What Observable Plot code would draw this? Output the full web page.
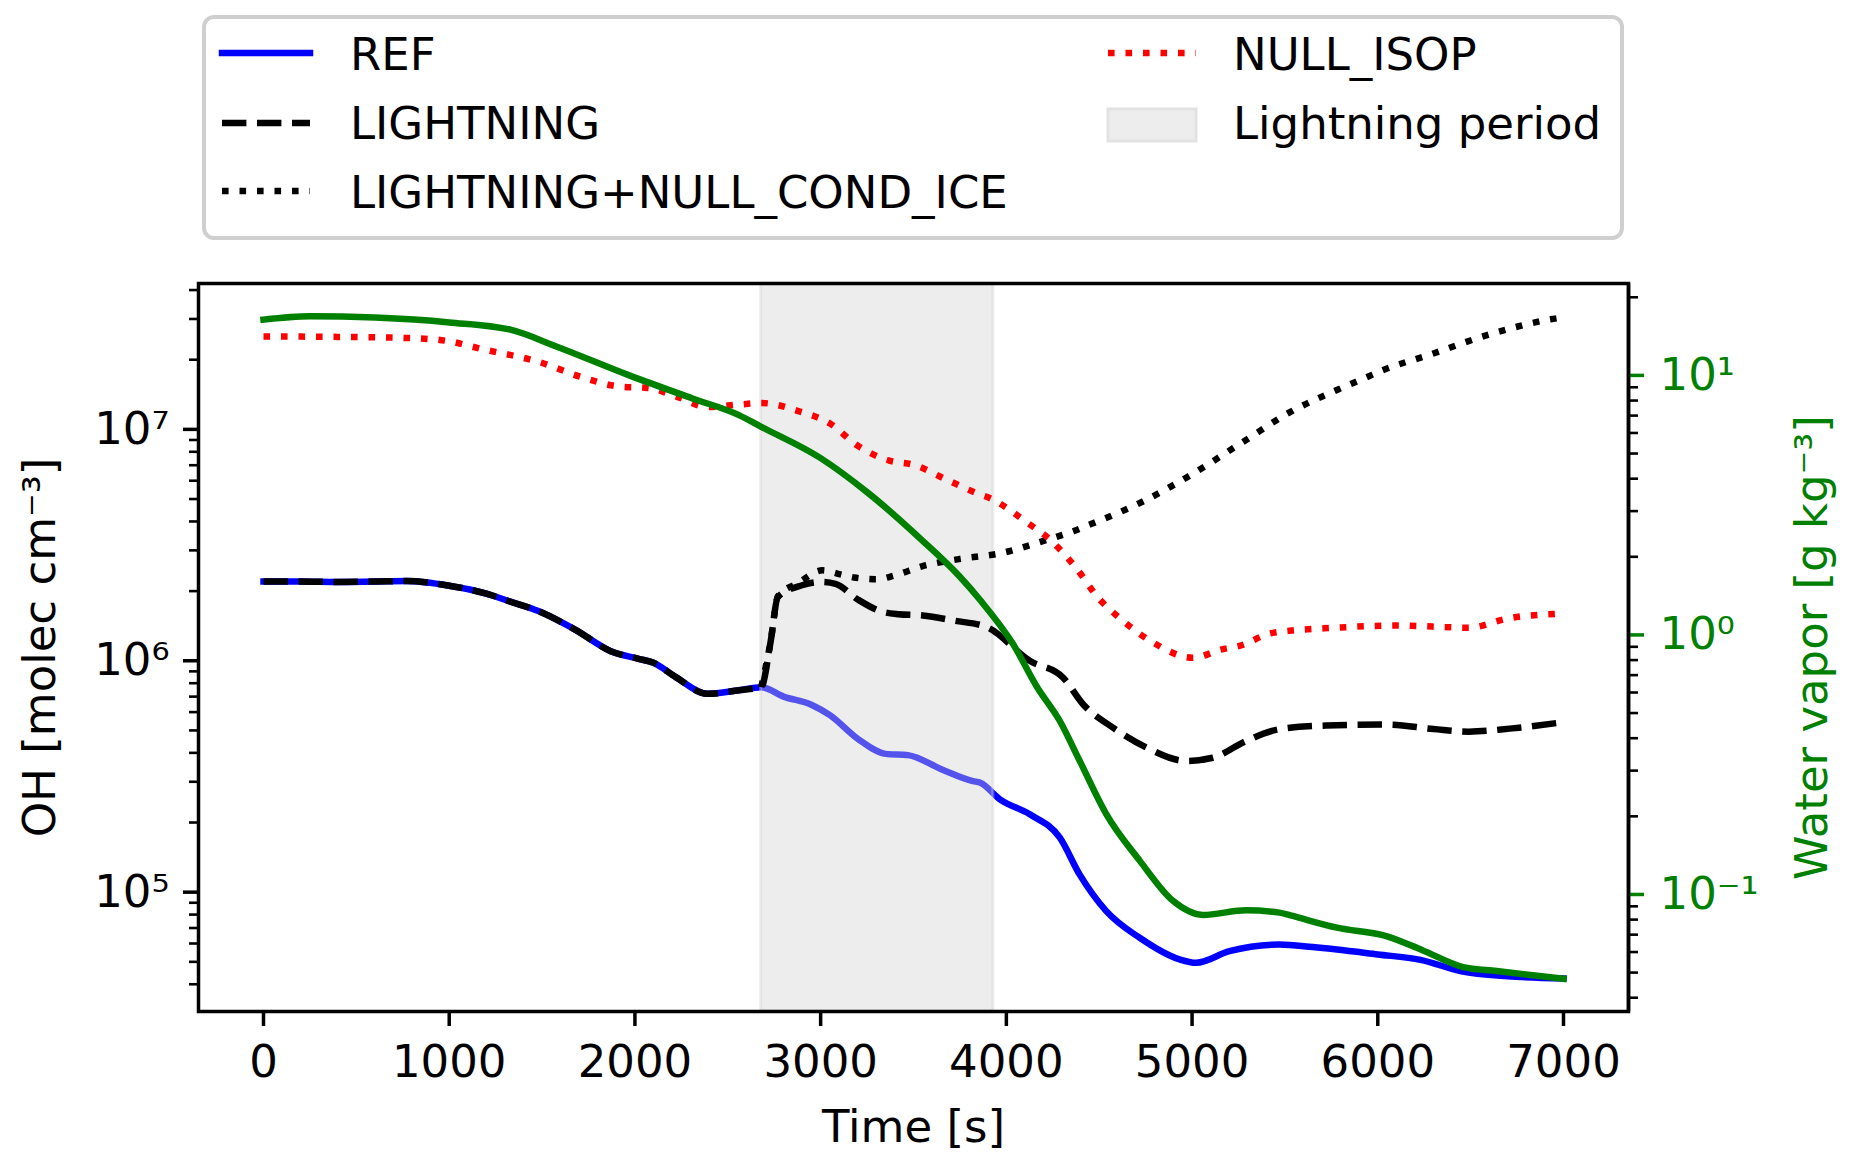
<!DOCTYPE html>
<html><head><meta charset="utf-8">
<script src="https://cdn.jsdelivr.net/npm/d3@7"></script>
<script src="https://cdn.jsdelivr.net/npm/@observablehq/plot@0.6"></script>
<style>
html,body{margin:0;padding:0;background:#fff;}
#wrap{position:relative;width:1850px;height:1166px;overflow:hidden;font-family:"DejaVu Sans";}
#wrap > svg{position:absolute;left:0;top:0;}
</style></head><body><div id="wrap"></div>
<script>
// ---------- data ----------
const refT  = [0,200,400,600,770,1000,1200,1330,1480,1680,1870,2020,2100,2220,2390,2560,2680,2800,2950,3050,3200,3350,3470,3650,3820,3860,3965,4126,4288,4395,4538,4718,4933,5022,5201,5470,5650,6000,6230,6450,6700,7000];
const refOH = [2.20e6,2.20e6,2.19e6,2.20e6,2.21e6,2.11e6,1.95e6,1.80e6,1.64e6,1.36e6,1.10e6,1.02e6,9.8e5,8.5e5,7.2e5,7.46e5,7.69e5,7.0e5,6.46e5,5.82e5,4.60e5,3.96e5,3.91e5,3.40e5,3.02e5,2.97e5,2.52e5,2.17e5,1.72e5,1.19e5,8.28e4,6.35e4,5.12e4,4.95e4,5.56e4,5.94e4,5.79e4,5.38e4,5.1e4,4.55e4,4.33e4,4.24e4];

const lightT  = [0,200,400,600,770,1000,1200,1330,1480,1680,1870,2020,2100,2220,2390,2560,2680,2730,2770,2900,3000,3080,3200,3320,3420,3550,3720,3893,4126,4306,4413,4574,4753,4968,5111,5291,5470,5720,6050,6300,6490,6710,7000];
const lightOH = [2.20e6,2.20e6,2.19e6,2.20e6,2.21e6,2.11e6,1.95e6,1.80e6,1.64e6,1.36e6,1.10e6,1.02e6,9.8e5,8.5e5,7.2e5,7.46e5,7.69e5,1.2e6,1.89e6,2.12e6,2.19e6,2.15e6,1.84e6,1.64e6,1.59e6,1.57e6,1.49e6,1.40e6,1.0e6,8.45e5,6.49e5,5.14e5,4.22e5,3.69e5,3.81e5,4.50e5,5.06e5,5.25e5,5.30e5,5.07e5,4.94e5,5.09e5,5.43e5];

const iceT  = [2680,2730,2770,2880,3010,3100,3180,3300,3400,3545,3744,3990,4170,4360,4440,4620,4740,5000,5280,5530,5780,5940,6025,6270,6600,6930,7000];
const iceOH = [7.69e5,1.2e6,1.9e6,2.17e6,2.46e6,2.37e6,2.29e6,2.25e6,2.34e6,2.56e6,2.75e6,2.94e6,3.24e6,3.63e6,3.85e6,4.42e6,4.90e6,6.40e6,8.89e6,1.19e7,1.48e7,1.68e7,1.80e7,2.09e7,2.57e7,2.99e7,3.05e7];

const isopT  = [0,400,790,990,1180,1480,1725,1920,2070,2220,2390,2560,2680,2880,3050,3200,3370,3500,3670,3840,3920,4004,4090,4240,4377,4490,4627,4789,5004,5160,5255,5434,5780,6100,6490,6710,7000];
const isopOH = [2.52e7,2.51e7,2.48e7,2.41e7,2.22e7,1.96e7,1.67e7,1.53e7,1.51e7,1.39e7,1.25e7,1.28e7,1.30e7,1.20e7,1.06e7,8.49e6,7.33e6,7.03e6,6.11e6,5.30e6,5.01e6,4.57e6,4.07e6,3.31e6,2.51e6,1.89e6,1.49e6,1.20e6,1.03e6,1.12e6,1.16e6,1.32e6,1.39e6,1.42e6,1.39e6,1.53e6,1.60e6];

const wvT = [0,250,600,1000,1330,1580,1970,2310,2560,2680,3000,3250,3545,3745,3860,4037,4165,4288,4395,4538,4718,4897,5058,5291,5470,5530,5780,6050,6240,6460,6640,7000];
const wvV = [16.4,16.9,16.7,16.0,15.0,12.9,10.0,8.15,7.03,6.34,4.80,3.55,2.32,1.69,1.36,0.92,0.63,0.466,0.327,0.204,0.135,0.0945,0.0834,0.0869,0.0851,0.083,0.0745,0.069,0.061,0.0525,0.0507,0.0473];

const lightningPeriod = [2680, 3930];

const xTicks = [0,1000,2000,3000,4000,5000,6000,7000];
const ohTicks = [1e5,1e6,1e7];
const ohMinor = [4e4,5e4,6e4,7e4,8e4,9e4,2e5,3e5,4e5,5e5,6e5,7e5,8e5,9e5,2e6,3e6,4e6,5e6,6e6,7e6,8e6,9e6,2e7,3e7,4e7];
const wvTicks = [0.1,1,10];
const wvMinor = [0.04,0.05,0.06,0.07,0.08,0.09,0.2,0.3,0.4,0.5,0.6,0.7,0.8,0.9,2,3,4,5,6,7,8,9,20];

const legendLabels = ["REF","LIGHTNING","LIGHTNING+NULL_COND_ICE","NULL_ISOP","Lightning period"];
const ohLabel = "OH [molec cm⁻³]";
const wvLabel = "Water vapor [g kg⁻³]";
const xLabel = "Time [s]";

// ---------- helpers ----------
const zip = (t, v) => t.map((d, i) => ({t: d, v: v[i]}));
const SUP = {"0":"⁰","1":"¹","2":"²","3":"³","4":"⁴","5":"⁵","6":"⁶","7":"⁷","8":"⁸","9":"⁹","-":"⁻"};
const pow10 = d => "10" + String(Math.round(Math.log10(d))).split("").map(c => SUP[c]).join("");

const W = 1850, H = 1166;
const M = {top: 283, bottom: 155, left: 198, right: 222};
const LW = 6.5, DASH = "24.4,10.6", DOT = "6.6,10.9";
const FONT = {fontFamily: "DejaVu Sans", fontSize: "45px", color: "black"};
const xDomain = [-350, 7350];

const wrap = document.getElementById("wrap");

// ---------- main plot (OH, left log axis) ----------
const p1 = Plot.plot({
  width: W, height: H,
  marginTop: M.top, marginBottom: M.bottom, marginLeft: M.left, marginRight: M.right,
  style: {...FONT, background: "white"},
  x: {domain: xDomain},
  y: {type: "log", domain: [3.05e4, 4.27e7]},
  marks: [
    Plot.line(zip(refT, refOH), {x: "t", y: "v", stroke: "#0000ff", strokeWidth: LW, curve: "monotone-x", strokeLinecap: "square"}),
    Plot.rect([{a: lightningPeriod[0], b: lightningPeriod[1]}], {x1: "a", x2: "b", fill: "#d3d3d3", fillOpacity: 0.4, stroke: "#d3d3d3", strokeOpacity: 0.4, strokeWidth: 3}),
    Plot.line(zip(lightT, lightOH), {x: "t", y: "v", stroke: "black", strokeWidth: LW, strokeDasharray: DASH, strokeLinecap: "butt", curve: "monotone-x"}),
    Plot.line(zip(iceT, iceOH), {x: "t", y: "v", stroke: "black", strokeWidth: LW, strokeDasharray: DOT, strokeLinecap: "butt", curve: "monotone-x"}),
    Plot.line(zip(isopT, isopOH), {x: "t", y: "v", stroke: "#ff0000", strokeWidth: LW, strokeDasharray: DOT, strokeLinecap: "butt", curve: "monotone-x"}),
    Plot.axisX({ticks: xTicks, tickSize: 15, tickPadding: 19, strokeWidth: 3.5, tickFormat: d3.format("d"), label: null}),
    Plot.axisY({ticks: ohMinor, tickSize: 9, strokeWidth: 2.6, tickFormat: () => "", label: null}),
    Plot.axisY({ticks: ohTicks, tickSize: 15, tickPadding: 14, strokeWidth: 3.5, tickFormat: pow10, label: null}),
    Plot.text([ohLabel], {text: d => d, frameAnchor: "left", dx: -158, rotate: -90, textAnchor: "middle", lineAnchor: "middle", fill: "black"}),
    Plot.text([xLabel], {text: d => d, frameAnchor: "bottom", dy: 116, textAnchor: "middle", lineAnchor: "middle", fill: "black"}),
    Plot.frame({stroke: "black", strokeWidth: 3.5})
  ]
});
wrap.appendChild(p1);

// ---------- twin plot (water vapor, right log axis) ----------
const p2 = Plot.plot({
  width: W, height: H,
  marginTop: M.top, marginBottom: M.bottom, marginLeft: M.left, marginRight: M.right,
  style: {...FONT, background: "transparent"},
  x: {domain: xDomain, axis: null},
  y: {type: "log", domain: [0.0354, 22.6]},
  marks: [
    Plot.line(zip(wvT, wvV), {x: "t", y: "v", stroke: "#008000", strokeWidth: LW, curve: "monotone-x", strokeLinecap: "square"}),
    Plot.axisY({anchor: "right", ticks: wvMinor, tickSize: 9, strokeWidth: 2.6, tickFormat: () => "", label: null, color: "black"}),
    Plot.axisY({anchor: "right", ticks: wvTicks, tickSize: 15, tickPadding: 16, strokeWidth: 3.5, tickFormat: pow10, label: null, color: "#008000"}),
    Plot.text([wvLabel], {text: d => d, frameAnchor: "right", dx: 184, rotate: -90, textAnchor: "middle", lineAnchor: "middle", fill: "#008000"}),
    Plot.ruleX([xDomain[1]], {stroke: "black", strokeWidth: 3.5})
  ]
});
wrap.appendChild(p2);

// ---------- legend ----------
const leg = d3.select(wrap).append("svg").attr("width", W).attr("height", 250)
  .style("font-family", "DejaVu Sans").style("font-size", "45px");
leg.append("rect").attr("x", 204).attr("y", 17).attr("width", 1418).attr("height", 221)
  .attr("rx", 10).attr("fill", "white").attr("stroke", "#cfcfcf").attr("stroke-width", 4);
const items = [
  {label: legendLabels[0], kind: "line", stroke: "#0000ff", dash: null, x: 222, tx: 350, cy: 53, by: 70},
  {label: legendLabels[1], kind: "line", stroke: "black", dash: DASH, x: 222, tx: 350, cy: 123, by: 139},
  {label: legendLabels[2], kind: "line", stroke: "black", dash: DOT, x: 222, tx: 350, cy: 191, by: 208},
  {label: legendLabels[3], kind: "line", stroke: "#ff0000", dash: DOT, x: 1108, tx: 1233, cy: 53, by: 70},
  {label: legendLabels[4], kind: "patch", x: 1108, tx: 1233, cy: 125, by: 139}
];
for (const it of items) {
  if (it.kind === "line") {
    leg.append("line").attr("x1", it.x).attr("x2", it.x + 88).attr("y1", it.cy).attr("y2", it.cy)
      .attr("stroke", it.stroke).attr("stroke-width", LW)
      .attr("stroke-dasharray", it.dash).attr("stroke-linecap", it.dash ? "butt" : "square");
  } else {
    leg.append("rect").attr("x", it.x).attr("y", it.cy - 16).attr("width", 88).attr("height", 32)
      .attr("fill", "#ededed").attr("stroke", "#e2e2e2").attr("stroke-width", 3);
  }
  leg.append("text").attr("x", it.tx).attr("y", it.by).attr("fill", "black").text(it.label);
}
</script></body></html>
